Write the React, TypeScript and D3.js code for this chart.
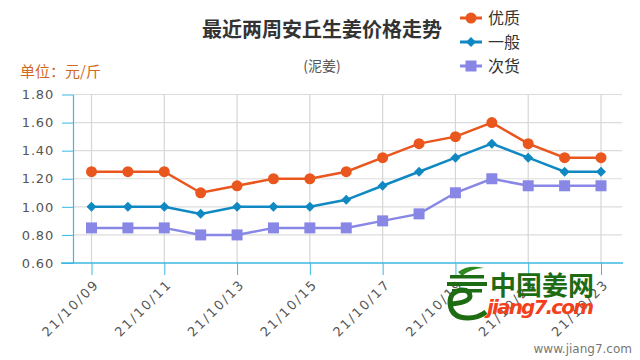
import React, { useEffect, useRef } from "react";
import * as d3 from "d3";

const dates = [
  "21/10/09", "21/10/10", "21/10/11", "21/10/12", "21/10/13",
  "21/10/14", "21/10/15", "21/10/16", "21/10/17", "21/10/18",
  "21/10/19", "21/10/20", "21/10/21", "21/10/22", "21/10/23",
];
const youzhi = [1.25, 1.25, 1.25, 1.1, 1.15, 1.2, 1.2, 1.25, 1.35, 1.45, 1.5, 1.6, 1.45, 1.35, 1.35];
const yiban = [1.0, 1.0, 1.0, 0.95, 1.0, 1.0, 1.0, 1.05, 1.15, 1.25, 1.35, 1.45, 1.35, 1.25, 1.25];
const cihuo = [0.85, 0.85, 0.85, 0.8, 0.8, 0.85, 0.85, 0.85, 0.9, 0.95, 1.1, 1.2, 1.15, 1.15, 1.15];
const yTicks = [0.6, 0.8, 1.0, 1.2, 1.4, 1.6, 1.8];
const xLabels = dates.filter((d, i) => i % 2 === 0);

const seriesList = [
  { name: "优质", values: youzhi, color: "#e9561e", marker: "circle" },
  { name: "一般", values: yiban, color: "#1088c2", marker: "diamond" },
  { name: "次货", values: cihuo, color: "#8887e6", marker: "square" },
];

const CJK = "'Noto Sans CJK SC', sans-serif";
const AXIS_BLUE = "#3cb7e3";

function Marker({ type, x, y, color }) {
  if (type === "circle") return <circle cx={x} cy={y} r={5.5} fill={color} />;
  if (type === "diamond")
    return (
      <path
        d={`M${x},${y - 5}L${x + 5},${y}L${x},${y + 5}L${x - 5},${y}Z`}
        fill={color}
      />
    );
  return <rect x={x - 5.5} y={y - 5.5} width={11} height={11} fill={color} />;
}

export default function App() {
  const axisRef = useRef(null);

  const xScale = d3.scalePoint().domain(dates).range([91.5, 601]);
  const yScale = d3.scaleLinear().domain([0.6, 1.8]).range([263, 94.5]);

  useEffect(() => {
    const g = d3.select(axisRef.current);
    g.selectAll("*").remove();

    // y axis
    const ya = g
      .append("g")
      .attr("transform", "translate(73,0)")
      .call(
        d3.axisLeft(yScale).tickValues(yTicks).tickSize(11).tickSizeOuter(0).tickPadding(8)
          .tickFormat(d3.format(".2f"))
      );
    ya.select(".domain").attr("stroke", AXIS_BLUE).attr("stroke-width", 1.2);
    ya.selectAll(".tick line").attr("stroke", AXIS_BLUE);
    ya.selectAll(".tick text")
      .attr("fill", "#555")
      .style("font-family", "'DejaVu Sans', sans-serif")
      .style("font-size", "13px")
      .style("letter-spacing", "0.8px");

    // x axis
    const xa = g
      .append("g")
      .attr("transform", "translate(0,263)")
      .call(d3.axisBottom(xScale).tickValues(xLabels).tickSize(12).tickSizeOuter(0));
    xa.select(".domain").remove();
    xa.selectAll(".tick line").attr("stroke", AXIS_BLUE);
    xa.selectAll(".tick text")
      .attr("fill", "#555")
      .attr("text-anchor", "end")
      .attr("transform", "translate(8,22) rotate(-45)")
      .attr("dy", "0")
      .attr("y", 0)
      .attr("x", 0)
      .style("font-family", "'DejaVu Sans', sans-serif")
      .style("font-size", "13px")
      .style("letter-spacing", "2px");
    g.append("line")
      .attr("x1", 61).attr("x2", 623)
      .attr("y1", 263).attr("y2", 263)
      .attr("stroke", AXIS_BLUE).attr("stroke-width", 1.5);
  }, []);

  return (
    <svg width={640} height={360} style={{ position: "absolute", left: 0, top: 0, background: "#fff" }}>
      {/* grid */}
      {yTicks.slice(1).map((t) => (
        <line key={t} x1={73} x2={622} y1={yScale(t)} y2={yScale(t)} stroke="#dcdcdc" strokeWidth={1.2} />
      ))}
      {xLabels.map((d) => (
        <line key={d} x1={xScale(d)} x2={xScale(d)} y1={94.5} y2={263} stroke="#d6d6d6" strokeWidth={1.2} />
      ))}

      <g ref={axisRef} />

      {/* watermark */}
      <g fill="#1d6b12">
        <path d="M458,272 Q468,264 484,268 Q472,268 462,276 Z" fill="#2f8a1e" />
        <rect x={450} y={275} width={34} height={3.5} />
        <rect x={447} y={282} width={40} height={4} />
        <rect x={452} y={289} width={30} height={3.5} />
        <path
          d="M452,304 Q470,302 470,296 Q470,290 462,290 Q450,291 450,303 Q451,318 468,318 Q478,318 486,312"
          fill="none" stroke="#1d6b12" strokeWidth={5}
        />
      </g>
      <text x={490} y={295} fontFamily={CJK} fontSize={26} fontWeight="bold" fill="#1d6b12">中国姜网</text>
      <text x={487} y={314} fontFamily="'DejaVu Sans', sans-serif" fontSize={20} fontWeight="bold"
        fontStyle="italic" fill="#f2401b" textLength={107}>jiang7.com</text>
      <text x={632} y={353} textAnchor="end" fontFamily="'DejaVu Sans', sans-serif" fontSize={12} fill="#777">
        www.jiang7.com
      </text>

      {/* series */}
      {seriesList.map((s) => {
        const line = d3
          .line()
          .x((d, i) => xScale(dates[i]))
          .y((d) => yScale(d));
        return (
          <g key={s.name}>
            <path d={line(s.values)} fill="none" stroke={s.color} strokeWidth={2.5} />
            {s.values.map((v, i) => (
              <Marker key={i} type={s.marker} x={xScale(dates[i])} y={yScale(v)} color={s.color} />
            ))}
          </g>
        );
      })}

      {/* titles */}
      <text x={322} y={37} textAnchor="middle" fontFamily={CJK} fontSize={20} fontWeight="bold" fill="#333">
        最近两周安丘生姜价格走势
      </text>
      <text x={322} y={71} textAnchor="middle" fontFamily={CJK} fontSize={14} fill="#555">
        (泥姜)
      </text>
      <text x={20} y={77} fontFamily={CJK} fontSize={15} fill="#d2691e">
        单位：元/斤
      </text>

      {/* legend */}
      {seriesList.map((s, i) => {
        const y = 18 + i * 24;
        return (
          <g key={s.name}>
            <line x1={460} x2={482} y1={y} y2={y} stroke={s.color} strokeWidth={3} />
            <Marker type={s.marker} x={471} y={y} color={s.color} />
            <text x={488} y={y + 6} fontFamily={CJK} fontSize={16} fill="#333">{s.name}</text>
          </g>
        );
      })}
    </svg>
  );
}
